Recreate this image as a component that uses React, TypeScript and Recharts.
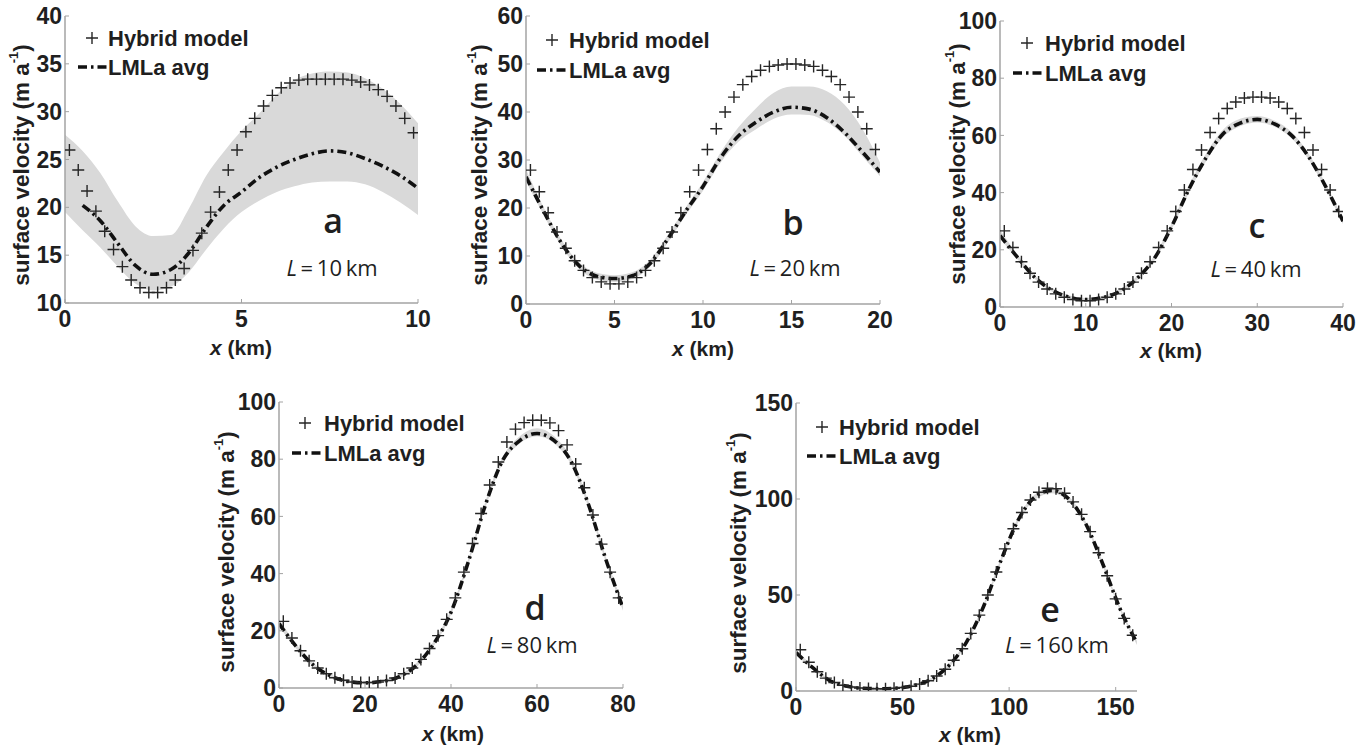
import React from 'react';
import { ComposedChart, Area, Line, XAxis, YAxis } from 'recharts';

// ---- data ----
// hybrid model: 40 samples at cell centres across each domain
// LMLa avg + grey band: 21 samples from 0 to L

// a, L = 10 km
const hybridA = [26.0, 23.9, 21.7, 19.6, 17.5, 15.6, 13.8, 12.4, 11.6, 11.1, 11.1, 11.6, 12.4, 13.6, 15.5, 17.3, 19.5, 21.6, 23.9, 26.0, 27.9, 29.3, 30.6, 31.7, 32.5, 33.0, 33.3, 33.4, 33.4, 33.4, 33.4, 33.4, 33.3, 33.1, 32.8, 32.3, 31.6, 30.6, 29.3, 27.8];
const avgA = [null, 20.2, 18.6, 16.2, 13.9, 13.0, 13.5, 15.2, 17.9, 20.2, 21.6, 23.1, 24.2, 25.0, 25.6, 25.9, 25.7, 25.1, 24.3, 23.3, 22.0];
const lowA = [19.5, 17.6, 15.8, 13.8, 12.0, 11.3, 11.7, 13.2, 15.6, 17.8, 19.5, 20.7, 21.6, 22.2, 22.6, 22.7, 22.7, 22.4, 21.6, 20.5, 19.2];
const highA = [27.6, 25.9, 23.6, 20.6, 18.0, 17.0, 17.1, 19.8, 23.3, 25.8, 28.0, 29.8, 31.8, 33.3, 34.0, 34.2, 34.1, 33.5, 32.4, 30.8, 28.8];

// b, L = 20 km
const hybridB = [27.9, 23.4, 19.0, 15.0, 11.6, 9.0, 7.0, 5.5, 4.6, 4.2, 4.2, 4.6, 5.5, 7.0, 9.0, 11.6, 15.0, 19.0, 23.4, 27.9, 32.2, 36.5, 40.0, 43.1, 45.7, 47.4, 48.7, 49.5, 49.8, 50.0, 50.0, 49.8, 49.5, 48.7, 47.4, 45.7, 43.1, 40.0, 36.5, 32.2];
const avgB = [26.5, 19.3, 12.7, 8.0, 5.8, 5.3, 5.9, 8.4, 13.5, 19.2, 24.5, 30.5, 35.0, 37.9, 40.0, 41.0, 40.6, 38.8, 35.7, 31.7, 27.5];
const lowB = [25.5, 18.5, 12.0, 7.3, 5.1, 4.6, 5.2, 7.7, 12.7, 18.4, 23.6, 29.5, 33.8, 36.4, 38.6, 39.5, 39.4, 37.9, 35.0, 30.8, 26.6];
const highB = [28.0, 20.1, 13.4, 8.7, 6.5, 6.0, 6.6, 9.1, 14.3, 20.0, 25.4, 31.6, 36.8, 40.8, 44.0, 45.3, 45.3, 44.3, 41.5, 36.5, 29.5];

// c, L = 40 km
const hybridC = [26.6, 20.8, 15.8, 11.8, 8.7, 6.3, 4.6, 3.4, 2.6, 2.2, 2.2, 2.6, 3.4, 4.6, 6.3, 8.7, 11.8, 15.8, 20.8, 26.6, 33.4, 40.9, 48.1, 54.9, 61.0, 65.9, 69.4, 71.7, 73.1, 73.4, 73.4, 73.1, 71.7, 69.4, 65.9, 61.0, 54.9, 48.1, 40.9, 33.4];
const avgC = [25.0, 17.5, 10.5, 6.0, 3.5, 2.6, 3.3, 5.5, 10.0, 17.0, 28.0, 41.0, 52.0, 60.5, 64.3, 65.6, 64.0, 60.0, 52.5, 42.0, 30.0];
const lowC = [24.0, 16.8, 10.0, 5.5, 3.0, 2.0, 2.8, 5.0, 9.4, 16.2, 27.0, 39.8, 50.8, 59.3, 63.2, 64.5, 63.0, 59.0, 51.5, 41.0, 29.0];
const highC = [27.0, 18.5, 11.2, 6.6, 4.1, 3.2, 3.9, 6.2, 10.8, 18.0, 29.2, 42.3, 53.5, 62.0, 65.8, 66.8, 65.2, 61.2, 53.6, 43.0, 31.0];

// d, L = 80 km
const hybridD = [23.3, 17.5, 13.0, 9.5, 7.0, 5.0, 3.6, 2.7, 2.1, 1.9, 1.9, 2.1, 2.6, 3.5, 5.0, 7.0, 10.0, 13.8, 18.3, 24.0, 31.5, 40.5, 50.5, 61.0, 71.0, 79.0, 86.0, 90.5, 92.8, 93.6, 93.6, 92.7, 90.0, 85.0, 78.3, 70.0, 60.5, 50.3, 40.5, 31.5];
const avgD = [22.5, 14.5, 8.0, 4.2, 2.3, 1.8, 2.3, 4.0, 8.0, 15.5, 26.5, 44.0, 64.0, 79.5, 86.5, 89.0, 86.5, 79.0, 64.0, 45.0, 28.0];
const lowD = [21.5, 13.7, 7.4, 3.6, 1.8, 1.3, 1.8, 3.4, 7.3, 14.7, 25.6, 43.0, 63.0, 78.5, 85.5, 88.0, 85.5, 78.0, 63.0, 44.0, 27.0];
const highD = [24.0, 15.4, 8.7, 4.8, 2.8, 2.3, 2.8, 4.6, 8.8, 16.4, 27.5, 45.0, 65.2, 80.8, 88.0, 90.8, 88.0, 80.2, 65.2, 46.0, 29.2];

// e, L = 160 km
const hybridE = [21.5, 15.0, 10.0, 6.7, 4.4, 3.0, 2.1, 1.6, 1.3, 1.2, 1.2, 1.4, 1.8, 2.5, 3.6, 5.3, 7.8, 11.3, 16.0, 22.0, 30.0, 39.5, 50.0, 62.0, 74.0, 84.5, 93.0, 99.5, 103.5, 105.6, 105.3, 103.0, 98.5, 92.0, 83.0, 72.0, 60.0, 48.0, 37.8, 29.0];
const avgE = [20.0, 12.0, 5.3, 2.5, 1.4, 1.2, 1.6, 3.0, 6.5, 13.5, 25.5, 44.0, 67.5, 88.5, 101.0, 104.5, 100.0, 87.0, 66.0, 43.0, 25.0];
const lowE = [19.0, 11.2, 4.7, 2.0, 0.9, 0.7, 1.1, 2.4, 5.8, 12.6, 24.4, 42.8, 66.2, 87.2, 99.6, 103.0, 98.6, 85.8, 64.8, 42.0, 24.0];
const highE = [21.5, 12.9, 6.0, 3.0, 1.9, 1.7, 2.1, 3.6, 7.2, 14.4, 26.6, 45.2, 68.8, 89.8, 102.4, 106.0, 101.4, 88.2, 67.2, 44.0, 26.0];

const xTicksA = [0, 5, 10];
const yTicksA = [10, 15, 20, 25, 30, 35, 40];
const xTicksB = [0, 5, 10, 15, 20];
const yTicksB = [0, 10, 20, 30, 40, 50, 60];
const xTicksC = [0, 10, 20, 30, 40];
const yTicksC = [0, 20, 40, 60, 80, 100];
const xTicksD = [0, 20, 40, 60, 80];
const yTicksD = [0, 20, 40, 60, 80, 100];
const xTicksE = [0, 50, 100, 150];
const yTicksE = [0, 50, 100, 150];

const FONT = '"Liberation Sans", Arial, Helvetica, sans-serif';
const SOFT = '"Open Sans", "Noto Sans", sans-serif';
const INK = '#1f1f1f';
const AXIS = '#a3a3a3';
const BAND = '#d9d9d9';
const DASH = '9 4 2.5 4';

type Box = { left: number; top: number; width: number; height: number };
type Plot = { l: number; t: number; r: number; b: number };

interface PanelSpec {
  box: Box;
  plot: Plot;
  length: number;
  yDomain: [number, number];
  xTicks: number[];
  yTicks: number[];
  hybrid: number[];
  avg: (number | null)[];
  low: number[];
  high: number[];
  letter: string;
  letterAt: [number, number];
  lengthText: string;
  lengthAt: [number, number];
  legend: { plusX: number; y1: number; textX: number; y2: number; lineX0: number };
  yLabelAt: [number, number];
  xLabelAt: [number, number];
}

const panels: PanelSpec[] = [
  {
    box: { left: 0, top: 0, width: 440, height: 345 },
    plot: { l: 65, t: 16, r: 418, b: 303 },
    length: 10, yDomain: [10, 40], xTicks: xTicksA, yTicks: yTicksA,
    hybrid: hybridA, avg: avgA, low: lowA, high: highA,
    letter: 'a', letterAt: [333, 233], lengthText: '10', lengthAt: [332, 276],
    legend: { plusX: 92, y1: 38, textX: 108, y2: 67, lineX0: 78 },
    yLabelAt: [21, 165], xLabelAt: [241, 347],
  },
  {
    box: { left: 440, top: 0, width: 460, height: 345 },
    plot: { l: 526, t: 16, r: 880, b: 304 },
    length: 20, yDomain: [0, 60], xTicks: xTicksB, yTicks: yTicksB,
    hybrid: hybridB, avg: avgB, low: lowB, high: highB,
    letter: 'b', letterAt: [793, 235], lengthText: '20', lengthAt: [795, 276],
    legend: { plusX: 552, y1: 40, textX: 569, y2: 70, lineX0: 537 },
    yLabelAt: [479, 165], xLabelAt: [703, 348],
  },
  {
    box: { left: 900, top: 0, width: 468, height: 345 },
    plot: { l: 1000, t: 21, r: 1343, b: 307 },
    length: 40, yDomain: [0, 100], xTicks: xTicksC, yTicks: yTicksC,
    hybrid: hybridC, avg: avgC, low: lowC, high: highC,
    letter: 'c', letterAt: [1257, 238], lengthText: '40', lengthAt: [1256, 277],
    legend: { plusX: 1027, y1: 43, textX: 1045, y2: 73, lineX0: 1013 },
    yLabelAt: [957, 164], xLabelAt: [1171, 350],
  },
  {
    box: { left: 200, top: 370, width: 440, height: 375 },
    plot: { l: 279, t: 402, r: 623, b: 688 },
    length: 80, yDomain: [0, 100], xTicks: xTicksD, yTicks: yTicksD,
    hybrid: hybridD, avg: avgD, low: lowD, high: highD,
    letter: 'd', letterAt: [535, 620], lengthText: '80', lengthAt: [532, 653],
    legend: { plusX: 305, y1: 423, textX: 324, y2: 453, lineX0: 292 },
    yLabelAt: [226, 552], xLabelAt: [453, 733],
  },
  {
    box: { left: 700, top: 370, width: 450, height: 375 },
    plot: { l: 796, t: 403, r: 1137, b: 691 },
    length: 160, yDomain: [0, 150], xTicks: xTicksE, yTicks: yTicksE,
    hybrid: hybridE, avg: avgE, low: lowE, high: highE,
    letter: 'e', letterAt: [1050, 622], lengthText: '160', lengthAt: [1057, 653],
    legend: { plusX: 822, y1: 427, textX: 839, y2: 456, lineX0: 807 },
    yLabelAt: [738, 553], xLabelAt: [970, 734],
  },
];

function Plus(props: any) {
  const { cx, cy, index } = props;
  if (cx == null || cy == null) return <g key={`p${index}`} />;
  return (
    <path
      key={`p${index}`}
      d={`M${cx - 6},${cy}H${cx + 6}M${cx},${cy - 6}V${cy + 6}`}
      stroke="#262626"
      strokeWidth={1.4}
      fill="none"
    />
  );
}

const tickStyle = { fill: INK, fontSize: 23, fontWeight: 700, fontFamily: FONT };

function Panel({ p }: { p: PanelSpec }) {
  const { box, plot } = p;
  const hybridRows = p.hybrid.map((v, i) => ({ x: ((i + 0.5) * p.length) / p.hybrid.length, v }));
  const avgRows = p.avg.map((v, i) => ({ x: (i * p.length) / (p.avg.length - 1), v }));
  const bandRows = p.low.map((lo, i) => ({ x: (i * p.length) / (p.low.length - 1), range: [lo, p.high[i]] }));
  const margin = { top: plot.t - box.top, right: box.left + box.width - plot.r, bottom: 0, left: 0 };

  return (
    <div style={{ position: 'absolute', left: box.left, top: box.top }}>
      <ComposedChart width={box.width} height={box.height} margin={margin}>
        <XAxis
          xAxisId="main"
          type="number"
          dataKey="x"
          domain={[0, p.length]}
          ticks={p.xTicks}
          interval={0}
          allowDataOverflow
          height={box.top + box.height - plot.b}
          axisLine={{ stroke: AXIS, strokeWidth: 1.5 }}
          tickLine={{ stroke: AXIS }}
          tickSize={-4}
          tickMargin={12}
          tick={tickStyle}
        />
        <XAxis
          xAxisId="top"
          orientation="top"
          type="number"
          dataKey="x"
          domain={[0, p.length]}
          ticks={p.xTicks}
          interval={0}
          height={0}
          axisLine={false}
          tickLine={{ stroke: '#bdbdbd' }}
          tickSize={-3}
          tick={false}
        />
        <YAxis
          yAxisId="main"
          type="number"
          domain={p.yDomain}
          ticks={p.yTicks}
          interval={0}
          allowDataOverflow
          width={plot.l - box.left}
          axisLine={{ stroke: AXIS, strokeWidth: 1.5 }}
          tickLine={{ stroke: AXIS }}
          tickSize={-4}
          tickMargin={7}
          tick={tickStyle}
        />
        <YAxis
          yAxisId="right"
          orientation="right"
          type="number"
          domain={p.yDomain}
          ticks={p.yTicks}
          interval={0}
          width={0}
          axisLine={false}
          tickLine={{ stroke: '#bdbdbd' }}
          tickSize={-3}
          tick={false}
        />
        <Area
          xAxisId="main"
          yAxisId="main"
          data={bandRows}
          dataKey="range"
          type="monotone"
          stroke="none"
          fill={BAND}
          fillOpacity={1}
          isAnimationActive={false}
        />
        <Line
          xAxisId="main"
          yAxisId="main"
          data={avgRows}
          dataKey="v"
          type="monotone"
          stroke="#111"
          strokeWidth={3.6}
          strokeDasharray={DASH}
          dot={false}
          activeDot={false}
          isAnimationActive={false}
        />
        <Line
          xAxisId="main"
          yAxisId="main"
          data={hybridRows}
          dataKey="v"
          stroke="none"
          dot={Plus}
          activeDot={false}
          isAnimationActive={false}
        />
      </ComposedChart>
    </div>
  );
}

function Overlay() {
  return (
    <svg
      width={1368}
      height={745}
      style={{ position: 'absolute', left: 0, top: 0, pointerEvents: 'none' }}
    >
      {panels.map((p) => {
        const lg = p.legend;
        return (
          <g key={p.letter}>
            {/* legend */}
            <path
              d={`M${lg.plusX - 6},${lg.y1}H${lg.plusX + 6}M${lg.plusX},${lg.y1 - 6}V${lg.y1 + 6}`}
              stroke="#262626"
              strokeWidth={1.4}
            />
            <text x={lg.textX} y={lg.y1 + 8} fontFamily={FONT} fontWeight={700} fontSize={22} fill={INK}>
              Hybrid model
            </text>
            <line
              x1={lg.lineX0}
              x2={lg.textX - 1}
              y1={lg.y2}
              y2={lg.y2}
              stroke="#111"
              strokeWidth={3.6}
              strokeDasharray={DASH}
            />
            <text x={lg.textX} y={lg.y2 + 8} fontFamily={FONT} fontWeight={700} fontSize={22} fill={INK}>
              LMLa avg
            </text>
            {/* panel letter and length */}
            <text
              x={p.letterAt[0]}
              y={p.letterAt[1]}
              textAnchor="middle"
              fontFamily={SOFT}
              fontWeight={600}
              fontSize={34}
              fill={INK}
            >
              {p.letter}
            </text>
            <text
              x={p.lengthAt[0]}
              y={p.lengthAt[1]}
              textAnchor="middle"
              fontFamily={SOFT}
              fontSize={22}
              fill={INK}
            >
              <tspan fontStyle="italic">L</tspan>
              {`\u2009=\u2009${p.lengthText}\u2009km`}
            </text>
            {/* axis titles */}
            <text
              transform={`translate(${p.yLabelAt[0]},${p.yLabelAt[1]}) rotate(-90)`}
              textAnchor="middle"
              dominantBaseline="central"
              fontFamily={FONT}
              fontWeight={700}
              fontSize={22.5}
              fill={INK}
            >
              surface velocity (m a
              <tspan dy={-8} fontSize={13}>-1</tspan>
              <tspan dy={8}>)</tspan>
            </text>
            <text
              x={p.xLabelAt[0]}
              y={p.xLabelAt[1]}
              textAnchor="middle"
              dominantBaseline="central"
              fontFamily={FONT}
              fontWeight={700}
              fontSize={21}
              fill={INK}
            >
              <tspan fontStyle="italic">x</tspan> (km)
            </text>
          </g>
        );
      })}
    </svg>
  );
}

export default function App() {
  return (
    <div
      style={{
        position: 'absolute',
        left: 0,
        top: 0,
        width: 1368,
        height: 745,
        background: '#fff',
        overflow: 'hidden',
      }}
    >
      {panels.map((p) => (
        <Panel key={p.letter} p={p} />
      ))}
      <Overlay />
    </div>
  );
}
